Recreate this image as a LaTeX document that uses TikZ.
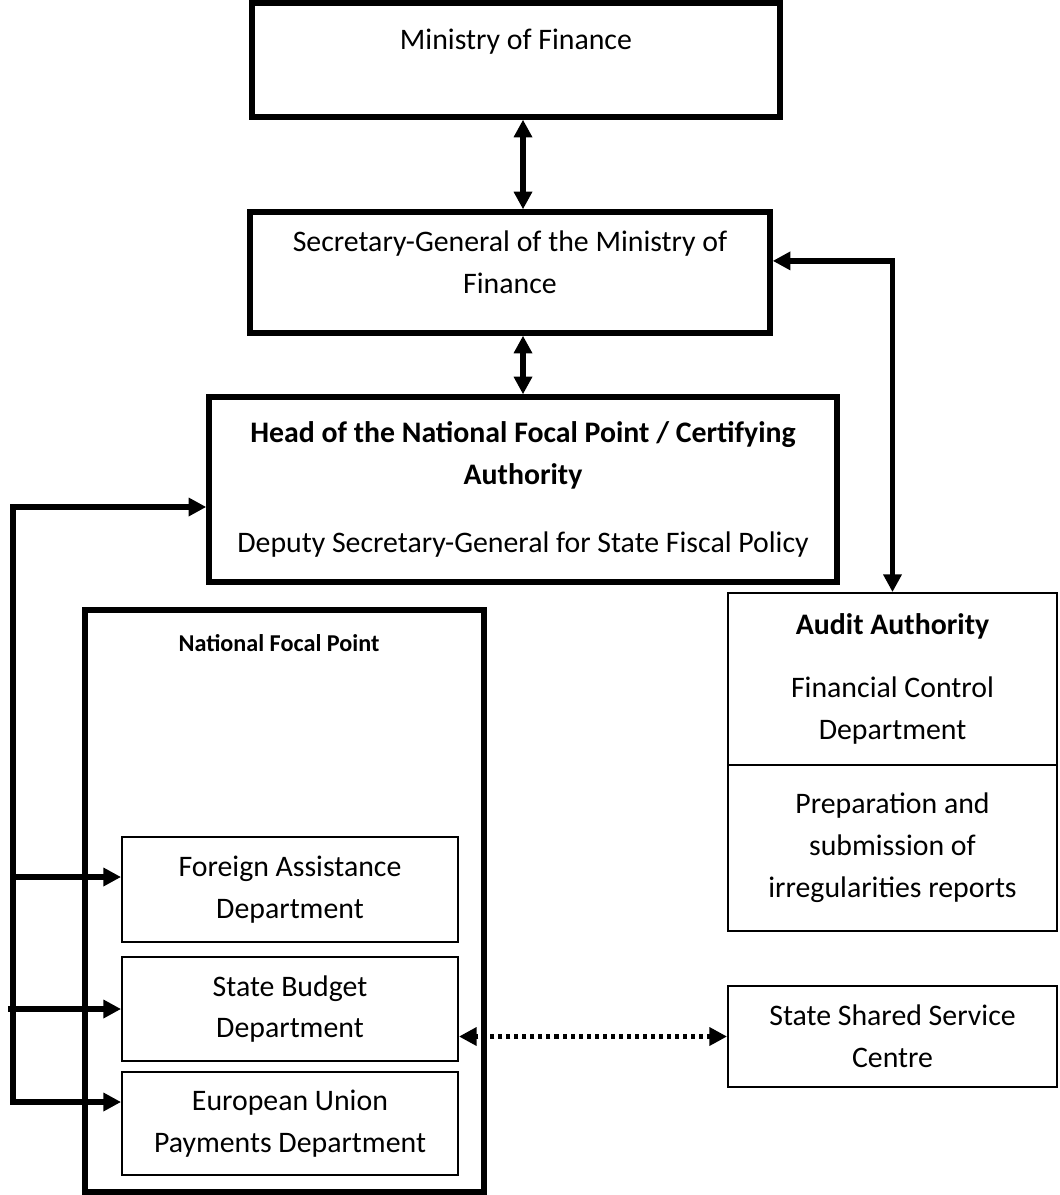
\documentclass[tikz,border=0pt]{standalone}
\usepackage{fontspec}
\setmainfont{Carlito}
\usepackage{tikz}
\usetikzlibrary{arrows.meta}

\begin{document}
\begin{tikzpicture}[x=0.025cm, y=-0.025cm,
	every node/.style={font=\fontsize{21.2}{29.8}\selectfont, align=center},
	heavybox/.style={draw, line width=3.8pt, inner sep=0pt},
	lightbox/.style={draw, line width=1.3pt, inner sep=0pt},
	link/.style={line width=3.8pt, -{Triangle[length=0.44cm,width=0.44cm]}},
	duplex/.style={link, {Triangle[length=0.44cm,width=0.44cm]}-{Triangle[length=0.44cm,width=0.44cm]}},
	dotlink/.style={duplex, line width=3.4pt, dash pattern=on 0.1cm off 0.1cm}]
	\useasboundingbox (0,0) rectangle (1059,1195);
	% top of the chain
	\node[heavybox, minimum width=13.2cm, minimum height=2.85cm] (mof) at (516,60) {};
	\node (mof text) at (516,42) {Ministry of Finance};
	\node[heavybox, minimum width=13cm, minimum height=3.025cm] (sg) at (510,272.5) {};
	\node (sg text) at (510,262) {Secretary-General of the Ministry of\\Finance};
	\node[heavybox, minimum width=15.7cm, minimum height=4.625cm] (head) at (523,489.5) {\textbf{Head of the National Focal Point / Certifying}\\\textbf{Authority}\\[0.65cm]Deputy Secretary-General for State Fiscal Policy};
	% audit side
	\node[lightbox, minimum width=8.225cm, minimum height=4.3cm] (audit) at (892.5,679) {\textbf{Audit Authority}\\[0.525cm]Financial Control\\Department};
	\node[lightbox, minimum width=8.225cm, minimum height=4.15cm] (irreg) at (892.5,848) {Preparation and\\submission of\\irregularities reports};
	\node[lightbox, minimum width=8.225cm, minimum height=2.525cm] (sssc) at (892.5,1036.5) {State Shared Service\\Centre};
	% national focal point
	\node[heavybox, minimum width=9.975cm, minimum height=14.55cm] (nfp) at (284.5,901) {};
	\node[font=\fontsize{17.2}{20}\selectfont\bfseries] (nfp text) at (279,643) {National Focal Point};
	\node[lightbox, minimum width=8.4cm, minimum height=2.625cm] (fad) at (290,889.5) {Foreign Assistance\\Department};
	\node[lightbox, minimum width=8.4cm, minimum height=2.6cm] (sbd) at (290,1009) {State Budget\\Department};
	\node[lightbox, minimum width=8.4cm, minimum height=2.575cm] (eupd) at (290,1123.5) {European Union\\Payments Department};
	% connectors
	\draw[duplex] (mof.south -| head.north) -- (sg.north -| head.north);
	\draw[duplex] (sg.south -| head.north) -- (head.north);
	\draw[duplex] ([yshift=0.29cm]sg.east) -| (audit.north);
	\coordinate (bus top) at (13,507);
	\coordinate (bus fa) at (13,877);
	\coordinate (bus sb) at (8,1009);
	\coordinate (bus eu) at (13,1102);
	\draw[duplex] (bus eu -| eupd.west) -- (bus eu) -- (bus top) -- (bus top -| head.west);
	\draw[link] (bus fa) -- (bus fa -| fad.west);
	\draw[link] (bus sb) -- (bus sb -| sbd.west);
	\draw[dotlink] (sssc.west) -- (sssc.west -| sbd.east);
\end{tikzpicture}
\end{document}
